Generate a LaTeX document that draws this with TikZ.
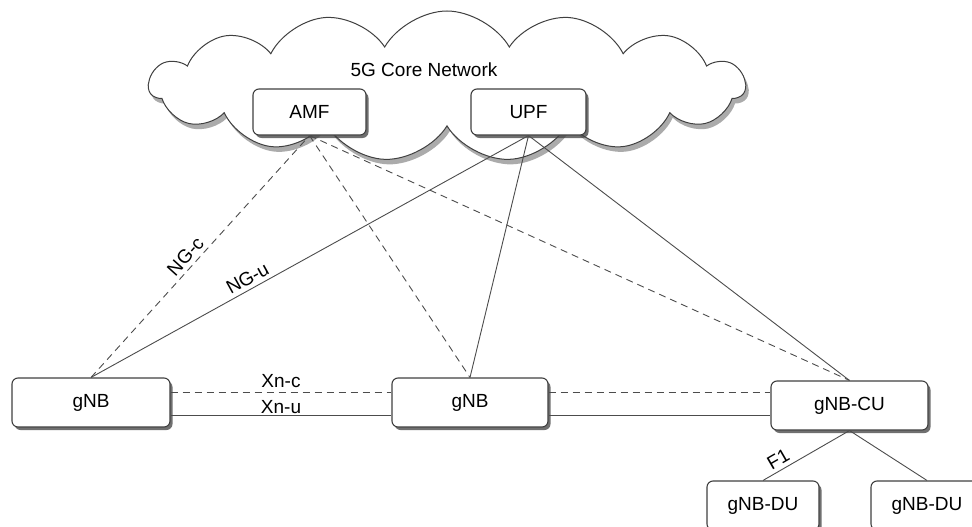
\documentclass[tikz,border=0pt]{standalone}
\usepackage{fontspec}
\setmainfont{Liberation Sans}
\usetikzlibrary{shapes.symbols,shadows,calc}
\newcommand\boxfont{\fontsize{19}{22}\selectfont}
\begin{document}
\begin{tikzpicture}[x=1pt,y=-1pt,
  box/.style={draw=black!75, line width=1.1pt, rounded corners=6pt, fill=white,
    minimum height=48pt, inner sep=0pt, font=\boxfont,
    drop shadow={shadow xshift=2.5pt, shadow yshift=-3pt, opacity=0.75, fill=black!75}},
  link/.style={draw=black!70, line width=0.9pt},
  ctrl/.style={link, dash pattern=on 7pt off 5pt},
  tag/.style={font=\boxfont, inner sep=1.5pt},
  stag/.style={tag, sloped, above, inner sep=4pt}
]
\useasboundingbox (0,0) rectangle (972,527);

% core network cloud
\node[cloud, cloud puffs=15, cloud puff arc=120, aspect=4,
      draw=black!75, line width=1pt, fill=white,
      minimum width=596pt, minimum height=150pt,
      drop shadow={shadow xshift=3pt, shadow yshift=-5pt, opacity=0.55, fill=black!60}]
      (core) at (447,86) {};
\node[font=\boxfont] (corelbl) at (424,70) {5G Core Network};

% network functions and RAN nodes
\node[box, minimum width=113pt, minimum height=46pt] (amf) at (309.5,112) {AMF};
\node[box, minimum width=115pt, minimum height=46pt] (upf) at (528.5,112) {UPF};
\node[box, minimum width=158pt, minimum height=49pt] (gnba) at (91,402.5) {gNB};
\node[box, minimum width=156pt, minimum height=49pt] (gnbb) at (470,402.5) {gNB};
\node[box, minimum width=157pt, minimum height=49pt] (gnbcu) at (849.5,405.5) {gNB-CU};
\node[box, minimum width=112pt, minimum height=49pt] (dua) at (763,505.5) {gNB-DU};
\node[box, minimum width=112pt, minimum height=49pt] (dub) at (927,505.5) {gNB-DU};

% NG interfaces
\draw[ctrl] (gnba.north) -- node[stag, pos=0.47] (ngc) {NG-c} (amf.south);
\draw[ctrl] (amf.south) -- (gnbb.north);
\draw[ctrl] (amf.south) -- (gnbcu.north);
\draw[link] (gnba.north) -- node[stag, pos=0.37] (ngu) {NG-u} (upf.south);
\draw[link] (upf.south) -- (gnbb.north);
\draw[link] (upf.south) -- (gnbcu.north);

% Xn interfaces
\draw[ctrl] ($(gnba.east)+(0,-10)$) -- node[tag, above, inner sep=4pt] (xnc) {Xn-c} ($(gnbb.west)+(0,-10)$);
\draw[link] ($(gnba.east)+(0,13)$) -- node[tag, above] (xnu) {Xn-u} ($(gnbb.west)+(0,13)$);
\draw[ctrl] ($(gnbb.east)+(0,-10)$) coordinate (xc) -- (xc -| gnbcu.west);
\draw[link] ($(gnbb.east)+(0,13)$) coordinate (xu) -- (xu -| gnbcu.west);

% F1 interfaces
\draw[link] (dua.north) -- node[stag, pos=0.24] (f1) {F1} (gnbcu.south);
\draw[link] (gnbcu.south) -- (dub.north);
\end{tikzpicture}
\end{document}
